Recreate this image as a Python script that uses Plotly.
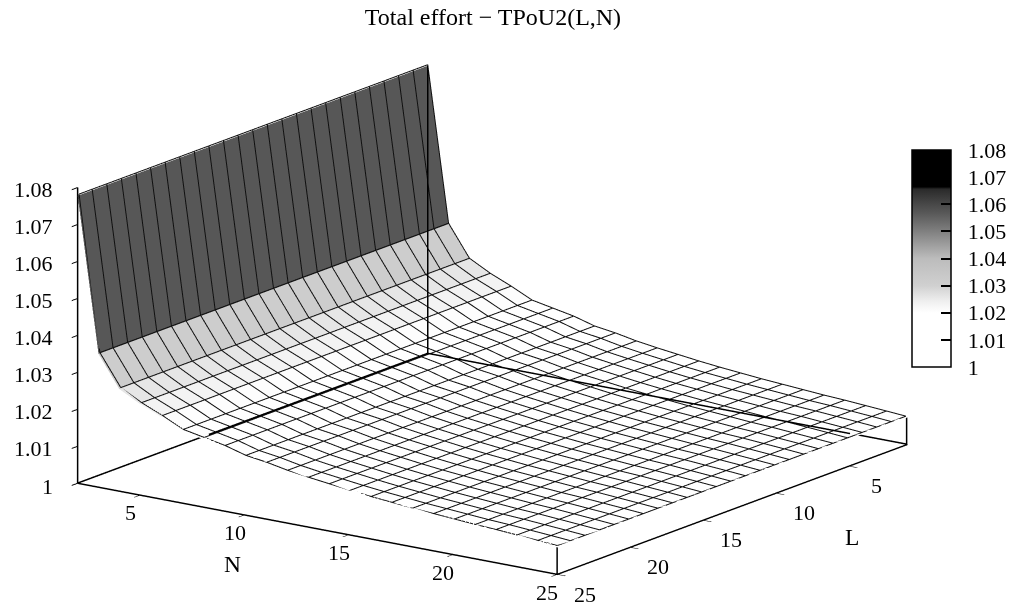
import plotly.graph_objects as go
import numpy as np

TITLE = "Total effort \u2212 TPoU2(L,N)"
N_VALUES = list(range(2, 26))
L_VALUES = list(range(1, 26))
EFFORT_BY_N = [1.0778, 1.0360, 1.0276, 1.0246, 1.0222, 1.0195, 1.0184, 1.0173, 1.0157, 1.0149,
               1.0138, 1.0130, 1.0123, 1.0116, 1.0110, 1.0105, 1.0100, 1.0096, 1.0092, 1.0088,
               1.0085, 1.0081, 1.0077, 1.0073]
Z_TICKS = [1, 1.01, 1.02, 1.03, 1.04, 1.05, 1.06, 1.07, 1.08]
Z_TICK_TEXT = ["1", "1.01", "1.02", "1.03", "1.04", "1.05", "1.06", "1.07", "1.08"]
XY_TICKS = [5, 10, 15, 20, 25]
GRAY_STOPS = [[0, "#ffffff"], [0.25, "#ffffff"], [0.3, "#f0f0f0"], [0.375, "#d0d0d0"], [0.5, "#bcbcbc"],
              [0.625, "#808080"], [0.71, "#585858"], [0.75, "#484848"], [0.82, "#2a2a2a"], [0.83, "#000000"],
              [1, "#000000"]]

FONT = "Liberation Serif"
BASE_ASPECT = dict(x=1.0, y=1.02, z=0.52)
ZOOM = 2.027
ASPECT = {k: v * ZOOM for k, v in BASE_ASPECT.items()}
SCENE_PX = 589.0
EYE_DIR = np.array([0.561, -0.784, 0.2655])
EYE_SCALE = 2.6
N_SPAN = N_VALUES[-1] - N_VALUES[0]
L_SPAN = L_VALUES[-1] - L_VALUES[0]

# Facets carry one flat colour: each cell is shaded by the mean of its two N edges.
eps = 0.002
xs, row_z, row_c = [], [], []
for i in range(len(N_VALUES) - 1):
    mean = (EFFORT_BY_N[i] + EFFORT_BY_N[i + 1]) / 2
    for frac in (eps, 1 - eps):
        xs.append(N_VALUES[i] + frac)
        row_z.append(np.interp(N_VALUES[i] + frac, N_VALUES, EFFORT_BY_N))
        row_c.append(mean)
xs[0] = float(N_VALUES[0])
xs[-1] = float(N_VALUES[-1])
row_z[0] = EFFORT_BY_N[0]
row_z[-1] = EFFORT_BY_N[-1]
Z = np.array([row_z for _ in L_VALUES])
C = np.array([row_c for _ in L_VALUES])

fig = go.Figure()
fig.add_trace(go.Surface(
    x=xs, y=L_VALUES, z=Z, surfacecolor=C, cmin=1, cmax=1.08,
    colorscale=GRAY_STOPS, hoverinfo="skip",
    lighting=dict(ambient=1, diffuse=0, specular=0, roughness=1, fresnel=0),
    contours=dict(x=dict(show=False), y=dict(show=False), z=dict(show=False)),
    colorbar=dict(
        lenmode="pixels", len=217, thicknessmode="pixels", thickness=39,
        x=912 / 1020, xanchor="left", xpad=0, ypad=0,
        y=1 - 367 / 607, yanchor="bottom",
        outlinecolor="black", outlinewidth=1.5,
        tickmode="array", tickvals=Z_TICKS, ticktext=["\u00a0\u00a0" + t for t in Z_TICK_TEXT],
        ticks="inside", ticklen=10, tickcolor="black", tickwidth=1.5,
        tickfont=dict(family=FONT, size=22, color="black")),
))

# wireframe nudged slightly toward the viewer so it always wins over the surface
LIFT = 0.0005
DN, DL = 0.07, 0.10
wx, wy, wz = [], [], []
for n, e in zip(N_VALUES, EFFORT_BY_N):
    wx += [min(n + DN, 25)] * len(L_VALUES) + [None]
    wy += [min(l + DL, 25) for l in L_VALUES] + [None]
    wz += [e + LIFT] * len(L_VALUES) + [None]
for l in L_VALUES:
    wx += [min(n + DN, 25) for n in N_VALUES] + [None]
    wy += [min(l + DL, 25)] * len(N_VALUES) + [None]
    wz += [e + LIFT for e in EFFORT_BY_N] + [None]
fig.add_trace(go.Scatter3d(x=wx, y=wy, z=wz, mode="lines", hoverinfo="skip", showlegend=False,
                           line=dict(color="#101010", width=2)))

def surface_at(n):
    return np.interp(n, N_VALUES, EFFORT_BY_N)

def lifted(ns, ls, zs):
    """Slide hidden points along the line of sight until they clear the surface."""
    out = []
    for n, l, z in zip(ns, ls, zs):
        hit = None
        for t in np.arange(0, 500, 4.0):
            nn = n + t * EYE_DIR[0] / (SCENE_PX * BASE_ASPECT["x"] / N_SPAN)
            ll = l + t * (-EYE_DIR[1]) / (SCENE_PX * BASE_ASPECT["y"] / L_SPAN)
            zz = z + t * EYE_DIR[2] / (SCENE_PX * BASE_ASPECT["z"] / 0.08)
            if nn > 25 or ll > 25:
                break
            if zz > surface_at(nn) + 0.0012:
                hit = (nn, ll, zz)
                break
        out.append(hit if hit else (None, None, None))
    return [p[0] for p in out], [p[1] for p in out], [p[2] for p in out]

def edge(ns, ls, zs, w=3):
    fig.add_trace(go.Scatter3d(x=ns, y=ls, z=zs, mode="lines", hoverinfo="skip", showlegend=False,
                               line=dict(color="black", width=w)))

# frame edges, drawn on top like the original's see-through back box
mn = np.linspace(2, 25, 93)
ml = np.linspace(1, 25, 97)
edge(*lifted(mn, np.ones_like(mn), np.ones_like(mn)))
edge(*lifted(2 * np.ones_like(ml), ml, np.ones_like(ml)))
v = np.linspace(1, 1.0778, 60)
edge(*lifted(2 * np.ones_like(v), np.ones_like(v), v))
edge([2.02, 2.02], [24.98, 1.02], [1.0001, 1.0001])
edge([2.02, 24.98], [1.02, 1.02], [1.0001, 1.0001])
edge([24.98, 24.98], [24.98, 24.98], [1, EFFORT_BY_N[-1]])
edge([24.98, 24.98], [1.02, 1.02], [1, EFFORT_BY_N[-1]])

axis = dict(showbackground=False, showgrid=False, zeroline=False, showspikes=False,
            showline=True, linecolor="black", linewidth=3, ticks="inside", ticklen=10,
            tickcolor="black", tickwidth=2, showticklabels=False,
            title=dict(text=""), tickmode="array")

# screen position of a data point under the chart's fixed oblique view
def screen(n, l, z):
    return (78 + (n - 2) * 479 / N_SPAN + (25 - l) * 350 / L_SPAN,
            484 + (n - 2) * 91 / N_SPAN - (25 - l) * 130 / L_SPAN - (z - 1) * 3700)

def label(n, l, z, text, dx, dy, size=22, anchor="center"):
    px, py = screen(n, l, z)
    return dict(text=text, x=(px + dx) / 1020, y=1 - (py + dy) / 607, xref="paper", yref="paper",
                showarrow=False, xanchor=anchor, yanchor="middle",
                font=dict(family=FONT, size=size, color="black"))

notes = []
for t in XY_TICKS:
    notes.append(label(t, 25, 1, str(t), -10, 17))
    notes.append(label(25, t, 1, str(t), 28, 19))
for t, s in zip(Z_TICKS, Z_TICK_TEXT):
    notes.append(label(2, 25, t, s, -23, 2, anchor="right"))
notes.append(dict(text="N", x=232 / 1020, y=1 - 564 / 607, xref="paper", yref="paper", showarrow=False,
                  xanchor="center", yanchor="middle", font=dict(family=FONT, size=23.5, color="black")))
notes.append(dict(text="L", x=852 / 1020, y=1 - 537 / 607, xref="paper", yref="paper", showarrow=False,
                  xanchor="center", yanchor="middle", font=dict(family=FONT, size=23.5, color="black")))

fig.update_layout(
    width=1020, height=607, margin=dict(l=0, r=0, t=0, b=0, autoexpand=False),
    paper_bgcolor="white", showlegend=False,
    title=dict(text=TITLE, x=493 / 1020, xanchor="center", y=1 - 17 / 607, yanchor="middle",
               font=dict(family=FONT, size=24, color="black")),
    scene=dict(
        domain=dict(x=[0, 985 / 1020], y=[0, 582 / 607]),
        aspectmode="manual", aspectratio=ASPECT,
        camera=dict(projection=dict(type="orthographic"),
                    eye=dict(x=float(EYE_DIR[0] * EYE_SCALE), y=float(EYE_DIR[1] * EYE_SCALE), z=float(EYE_DIR[2] * EYE_SCALE)),
                    center=dict(x=0, y=0, z=0), up=dict(x=0, y=0, z=1)),
        xaxis=dict(axis, range=[2, 25], tickvals=XY_TICKS),
        yaxis=dict(axis, range=[25, 1], tickvals=XY_TICKS),
        zaxis=dict(axis, range=[1, 1.08], tickvals=Z_TICKS),
    ),
    annotations=notes,
)
fig.write_html("out.html", config=dict(displayModeBar=False),
               post_script="document.body.style.margin='0';")
